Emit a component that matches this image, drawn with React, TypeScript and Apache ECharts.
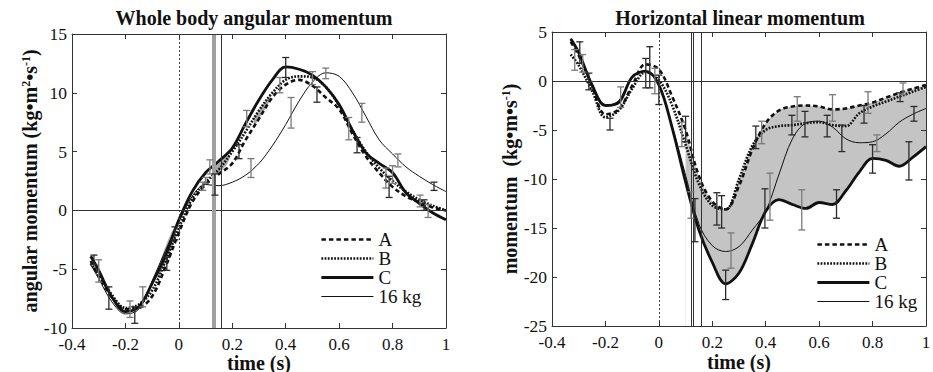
import React, { useEffect, useRef } from "react";
import * as echarts from "echarts";

// ---------- shared time grid (s) ----------
const times = [-0.33, -0.3, -0.25, -0.2, -0.15, -0.1, -0.05, 0, 0.05, 0.1, 0.15, 0.2, 0.25, 0.3, 0.35, 0.4, 0.45, 0.5, 0.55, 0.6, 0.65, 0.7, 0.75, 0.8, 0.85, 0.9, 0.95, 1.0];

// ---------- Whole body angular momentum ----------
const angA = [-4.3, -5.6, -7.4, -8.4, -8.3, -7.3, -4.8, -1.9, 0.7, 2.2, 3.1, 4.0, 6.0, 7.8, 9.6, 10.7, 11.1, 10.6, 9.6, 8.6, 6.5, 4.6, 3.2, 2.0, 1.2, 0.7, 0.25, 0];
const angB = [-4.5, -5.5, -7.2, -8.3, -8.0, -6.8, -4.3, -1.5, 1.0, 2.4, 3.5, 5.0, 6.7, 8.5, 10.0, 11.1, 11.4, 11.3, 10.5, 8.9, 6.8, 5.0, 3.6, 2.5, 1.6, 0.9, 0.4, 0.0];
const angC = [-3.9, -5.1, -7.4, -8.6, -8.2, -6.2, -3.8, -0.8, 1.6, 3.2, 4.2, 5.3, 7.4, 9.4, 11.1, 12.2, 12.0, 11.5, 10.5, 9.0, 6.8, 4.9, 4.0, 3.2, 1.5, 0.6, -0.2, -0.8];
const ang16 = [-4.6, -5.8, -7.8, -8.8, -8.4, -6.0, -3.4, -1.0, 1.2, 2.2, 2.1, 2.4, 3.0, 4.0, 5.5, 7.3, 9.3, 10.9, 11.7, 11.4, 10.0, 8.0, 6.0, 4.8, 3.7, 2.9, 2.2, 1.6];

const angErrT = [-0.318, -0.3, -0.262, -0.183, -0.165, -0.135, -0.045, -0.015, 0.09, 0.1, 0.116, 0.135, 0.225, 0.254, 0.27, 0.378, 0.4, 0.42, 0.5, 0.517, 0.55, 0.636, 0.667, 0.685, 0.775, 0.787, 0.8, 0.82, 0.903, 0.918, 0.933, 0.955];
const angErrLo = [-4.6, -6.1, -8.4, -9.1, -9.6, -8.2, -5.1, -2.5, 1.7, 2.3, 3.1, 1.3, 4.4, 7.1, 2.8, 10.0, 11.3, 7.0, 10.7, 9.2, 11.2, 6.0, 4.9, 7.5, 1.9, 1.1, 2.3, 3.7, 0.3, 0.0, -0.6, 1.7];
const angErrHi = [-3.8, -4.2, -6.5, -7.7, -8.2, -6.5, -4.0, -1.4, 2.4, 2.8, 4.3, 3.1, 5.6, 8.5, 4.4, 11.3, 13.0, 9.6, 11.8, 10.5, 12.1, 7.9, 6.2, 9.1, 3.6, 2.9, 3.8, 4.8, 1.3, 0.9, 0.5, 2.4];
const angErrGray = [0, 1, 0, 1, 0, 1, 0, 0, 1, 1, 1, 0, 0, 1, 1, 1, 0, 1, 1, 0, 1, 1, 0, 1, 1, 0, 1, 1, 1, 0, 1, 0];

const angShadeT1 = [0.135, 0.15, 0.165, 0.18, 0.19];
const angShadeHi1 = [4.0, 4.2, 4.4, 4.6, 4.7];
const angShadeLo1 = [3.0, 3.2, 3.5, 3.9, 4.4];
const angShadeT2 = [0.28, 0.3, 0.32, 0.34];
const angShadeHi2 = [7.9, 8.5, 9.2, 9.8];
const angShadeLo2 = [7.1, 7.8, 8.5, 9.3];
const angShadeT3 = [-0.08, -0.06, -0.04, -0.02];
const angShadeHi3 = [-5.0, -3.7, -2.5, -1.5];
const angShadeLo3 = [-5.9, -4.9, -3.9, -2.7];

const angEvents = [0.128, 0.162];

// ---------- Horizontal linear momentum ----------
const linA = [4.0, 2.6, -0.5, -3.4, -2.9, -0.5, 1.7, 1.2, -1.6, -5.0, -9.7, -12.3, -13.1, -10.7, -7.0, -4.3, -3.0, -2.6, -2.5, -2.6, -2.9, -2.8, -2.5, -2.2, -1.7, -1.2, -0.8, -0.4];
const linB = [2.7, 1.6, -1.0, -3.7, -3.0, -0.8, 0.9, 0.1, -2.5, -6.5, -10.5, -12.7, -13.1, -10.0, -6.6, -5.0, -4.6, -4.5, -4.3, -4.2, -4.5, -4.6, -3.3, -2.6, -2.1, -1.6, -1.1, -0.6];
const linC = [4.3, 2.9, -0.4, -2.5, -2.2, 0.4, 1.0, -0.4, -4.8, -10.3, -15.2, -18.5, -20.7, -19.6, -16.6, -13.3, -12.1, -12.6, -13.0, -12.4, -12.6, -11.2, -9.3, -7.9, -8.1, -8.7, -7.8, -6.7];
const lin16 = [4.3, 2.9, -0.3, -2.5, -2.0, 0.4, 1.0, -0.3, -4.6, -9.6, -14.6, -16.8, -17.4, -16.9, -15.2, -13.3, -9.5, -5.9, -4.3, -4.1, -4.7, -5.9, -6.3, -6.2, -5.4, -4.2, -3.4, -2.8];

const linErrT = [-0.315, -0.296, -0.285, -0.262, -0.183, -0.143, -0.049, -0.034, -0.015, 0.0, 0.086, 0.1, 0.12, 0.135, 0.217, 0.235, 0.25, 0.27, 0.363, 0.385, 0.397, 0.416, 0.498, 0.518, 0.535, 0.547, 0.63, 0.65, 0.665, 0.685, 0.768, 0.783, 0.8, 0.816, 0.903, 0.914, 0.936, 0.955];
const linErrLo = [1.1, 1.8, 0.9, -0.9, -5.0, -2.7, -0.7, -0.7, -1.3, -2.4, -6.7, -6.2, -14.0, -16.4, -14.7, -15.0, -22.3, -19.1, -6.9, -6.4, -15.0, -14.2, -5.5, -4.1, -15.2, -5.7, -5.7, -4.1, -14.0, -7.2, -4.3, -3.3, -9.4, -7.2, -2.1, -1.4, -10.1, -4.1];
const linErrHi = [3.2, 4.0, 2.7, 0.8, -3.8, -0.6, 2.3, 3.5, 1.3, 0.6, -4.2, -3.6, -11.3, -12.0, -11.4, -11.7, -19.3, -15.5, -4.6, -4.1, -11.0, -9.4, -3.5, -1.6, -11.1, -3.1, -3.5, -1.4, -11.1, -4.5, -2.5, -1.1, -6.5, -5.5, -1.2, -0.2, -6.2, -2.6];
const linErrGray = [1, 0, 1, 0, 0, 1, 0, 0, 1, 0, 1, 0, 1, 0, 0, 0, 0, 1, 0, 1, 0, 1, 0, 1, 1, 0, 0, 1, 0, 0, 0, 1, 0, 1, 0, 1, 0, 0];

const linShadeStart = 0.1;
const linEvents = [0.124, 0.132, 0.157];

const legendNames = ["A", "B", "C", "16 kg"];

// ---------- styling ----------
const SERIF = '"Liberation Serif", "Times New Roman", Times, serif';
const SM = 0.35;
const INK = "#111";

const lineStyles: any = {
  A: { color: INK, width: 2.6, type: [4.5, 3] },
  B: { color: INK, width: 2.6, type: [1.8, 1.4] },
  C: { color: INK, width: 2.8, type: "solid" },
  "16 kg": { color: INK, width: 1, type: "solid" },
};

function buildOption() {
  const axisLineStyle = { color: "#333", width: 1 };
  const nameStyle = {
    fontFamily: SERIF,
    fontWeight: "bold",
    fontSize: 20,
    color: INK,
    rich: {
      sup: { fontFamily: SERIF, fontWeight: "bold", fontSize: 12, color: INK, verticalAlign: "top", lineHeight: 14 },
    },
  };
  const xNameStyle = { fontFamily: SERIF, fontWeight: "bold", fontSize: 20, color: INK, lineHeight: 18 };
  const mkX = (gi: number, pos: string) => ({
    type: "value",
    gridIndex: gi,
    position: pos,
    min: -0.4,
    max: 1,
    interval: 0.2,
    z: 10,
    axisLine: { show: true, onZero: false, lineStyle: axisLineStyle },
    axisTick: { show: true, inside: true, length: 5, lineStyle: axisLineStyle },
    axisLabel:
      pos === "bottom"
        ? { show: true, margin: 9, lineHeight: 14, fontFamily: SERIF, fontSize: 17, color: INK }
        : { show: false },
    splitLine: { show: false },
    name: pos === "bottom" ? "time (s)" : "",
    nameLocation: "middle",
    nameGap: gi === 0 ? 26 : 27,
    nameMoveOverlap: false,
    nameTextStyle: xNameStyle,
  });
  const mkY = (gi: number, pos: string, min: number, max: number, name: string) => ({
    type: "value",
    gridIndex: gi,
    position: pos,
    min,
    max,
    interval: 5,
    z: 10,
    axisLine: { show: true, onZero: false, lineStyle: axisLineStyle },
    axisTick: { show: true, inside: true, length: 5, lineStyle: axisLineStyle },
    axisLabel:
      pos === "left"
        ? { show: true, margin: 5, lineHeight: 13, fontFamily: SERIF, fontSize: 17.5, color: INK }
        : { show: false },
    splitLine: { show: false },
    name: pos === "left" ? name : "",
    nameLocation: "middle",
    nameGap: 29,
    nameTextStyle: nameStyle,
  });

  const lineSeries = (name: string, vals: number[], ai: number, z: number, extra: any = {}) => ({
    type: "line",
    name,
    xAxisIndex: ai,
    yAxisIndex: ai,
    data: times.map((t, i) => [t, vals[i]]),
    smooth: SM,
    symbol: "none",
    showSymbol: false,
    lineStyle: lineStyles[name],
    itemStyle: { color: INK },
    z,
    silent: true,
    emphasis: { disabled: true },
    ...extra,
  });

  const errSeries = (ai: number, T: number[], lo: number[], hi: number[], gray: number[]) => ({
    type: "custom",
    xAxisIndex: ai,
    yAxisIndex: ai,
    z: 6,
    silent: true,
    data: T.map((t, i) => [t, lo[i], hi[i], gray[i]]),
    encode: { x: 0, y: [1, 2] },
    renderItem: (_p: any, api: any) => {
      const x = api.value(0);
      const top = api.coord([x, api.value(2)]);
      const bot = api.coord([x, api.value(1)]);
      const c = api.value(3) ? "#7a7a7a" : "#2a2a2a";
      const st = { stroke: c, lineWidth: 1.3, fill: "none" };
      const hw = 3.5;
      return {
        type: "group",
        children: [
          { type: "line", shape: { x1: top[0], y1: top[1], x2: bot[0], y2: bot[1] }, style: st },
          { type: "line", shape: { x1: top[0] - hw, y1: top[1], x2: top[0] + hw, y2: top[1] }, style: st },
          { type: "line", shape: { x1: bot[0] - hw, y1: bot[1], x2: bot[0] + hw, y2: bot[1] }, style: st },
        ],
      };
    },
  });

  const angShades = [
    { t: angShadeT1, hi: angShadeHi1, lo: angShadeLo1 },
    { t: angShadeT2, hi: angShadeHi2, lo: angShadeLo2 },
    { t: angShadeT3, hi: angShadeHi3, lo: angShadeLo3 },
  ];

  const shadeIdx = times.map((_, i) => i).filter((i) => times[i] >= linShadeStart - 1e-9);

  const markLineBase = {
    silent: true,
    symbol: ["none", "none"],
    label: { show: false },
    emphasis: { disabled: true },
    animation: false,
  };

  const legendBase = {
    data: legendNames.map((n) => ({
      name: n,
      lineStyle: {
        width: lineStyles[n].width,
        type: lineStyles[n].type,
        color: INK,
      },
    })),
    orient: "vertical",
    itemWidth: 52,
    itemHeight: 2,
    itemGap: 0,
    padding: 0,
    selectedMode: false,
    itemStyle: { opacity: 0, borderWidth: 0 },
    textStyle: { fontFamily: SERIF, fontSize: 19, color: INK, lineHeight: 18.7 },
  };

  return {
    animation: false,
    backgroundColor: "#fff",
    graphic: [
      {
        type: "text",
        x: 254,
        y: 18,
        style: {
          text: "Whole body angular momentum",
          fontFamily: SERIF,
          fontWeight: "bold",
          fontSize: 20,
          fill: INK,
          textAlign: "center",
          textVerticalAlign: "middle",
        },
      },
      {
        type: "text",
        x: 740,
        y: 18,
        style: {
          text: "Horizontal linear momentum",
          fontFamily: SERIF,
          fontWeight: "bold",
          fontSize: 20,
          fill: INK,
          textAlign: "center",
          textVerticalAlign: "middle",
        },
      },
    ],
    grid: [
      { left: 72, top: 34, width: 374, height: 294, outerBoundsMode: "none", containLabel: false },
      { left: 552, top: 32, width: 374, height: 294, outerBoundsMode: "none", containLabel: false },
    ],
    xAxis: [mkX(0, "bottom"), mkX(0, "top"), mkX(1, "bottom"), mkX(1, "top")],
    yAxis: [
      mkY(0, "left", -10, 15, "angular momentum (kg•m{sup|2}•s{sup|-1})"),
      mkY(0, "right", -10, 15, ""),
      mkY(1, "left", -25, 5, "momentum  (kg•m•s{sup|-1})"),
      mkY(1, "right", -25, 5, ""),
    ],
    legend: [
      { ...legendBase, left: 320, top: 230 },
      { ...legendBase, left: 816, top: 235 },
    ],
    series: [
      // ---- left shading ----
      {
        type: "custom",
        xAxisIndex: 0,
        yAxisIndex: 0,
        z: 1,
        silent: true,
        data: angShades.map((s, i) => [s.t[0], s.hi[0], i]),
        encode: { x: 0, y: 1 },
        renderItem: (_p: any, api: any) => {
          const s = angShades[api.value(2)];
          const pts: number[][] = [];
          s.t.forEach((t, j) => pts.push(api.coord([t, s.hi[j]])));
          for (let j = s.t.length - 1; j >= 0; j--) pts.push(api.coord([s.t[j], s.lo[j]]));
          return { type: "polygon", shape: { points: pts }, style: { fill: "#a9a9a9" } };
        },
      },
      // ---- left lines ----
      lineSeries("16 kg", ang16, 0, 3),
      lineSeries("A", angA, 0, 3),
      lineSeries("B", angB, 0, 3),
      lineSeries("C", angC, 0, 3, {
        markLine: {
          ...markLineBase,
          data: [
            { xAxis: 0, lineStyle: { color: "#444", width: 1, type: [2, 2] } },
            { yAxis: 0, lineStyle: { color: "#333", width: 1, type: "solid" } },
            { xAxis: angEvents[0], lineStyle: { color: "#a0a0a0", width: 4, type: "solid" } },
            { xAxis: angEvents[1], lineStyle: { color: "#333", width: 1, type: "solid" } },
          ],
        },
      }),
      errSeries(0, angErrT, angErrLo, angErrHi, angErrGray),

      // ---- right shading: gray under upper envelope, white under C ----
      {
        type: "line",
        xAxisIndex: 2,
        yAxisIndex: 2,
        data: shadeIdx.map((i) => [times[i], Math.max(linA[i], linB[i])]),
        smooth: SM,
        symbol: "none",
        lineStyle: { opacity: 0 },
        areaStyle: { color: "#c4c4c4", opacity: 1, origin: "start" },
        z: 1,
        silent: true,
      },
      {
        type: "line",
        xAxisIndex: 2,
        yAxisIndex: 2,
        data: shadeIdx.map((i) => [times[i], linC[i]]),
        smooth: SM,
        symbol: "none",
        lineStyle: { opacity: 0 },
        areaStyle: { color: "#ffffff", opacity: 1, origin: "start" },
        z: 1.1,
        silent: true,
      },
      // ---- right lines ----
      lineSeries("16 kg", lin16, 2, 3),
      lineSeries("A", linA, 2, 3),
      lineSeries("B", linB, 2, 3),
      lineSeries("C", linC, 2, 3, {
        markLine: {
          ...markLineBase,
          data: [
            { xAxis: 0, lineStyle: { color: "#444", width: 1, type: [2, 2] } },
            { yAxis: 0, lineStyle: { color: "#333", width: 1, type: "solid" } },
            { xAxis: linEvents[0], lineStyle: { color: "#333", width: 1, type: "solid" } },
            { xAxis: linEvents[1], lineStyle: { color: "#333", width: 1, type: "solid" } },
            { xAxis: linEvents[2], lineStyle: { color: "#333", width: 1, type: "solid" } },
          ],
        },
      }),
      errSeries(2, linErrT, linErrLo, linErrHi, linErrGray),
    ],
  };
}

export default function App() {
  const ref = useRef<HTMLDivElement>(null);
  useEffect(() => {
    if (!ref.current) return;
    const chart = echarts.init(ref.current, undefined, { renderer: "svg" });
    chart.setOption(buildOption() as any);
    return () => chart.dispose();
  }, []);
  return (
    <div
      ref={ref}
      style={{ position: "absolute", left: 0, top: 0, width: 933, height: 372, background: "#fff" }}
    />
  );
}
